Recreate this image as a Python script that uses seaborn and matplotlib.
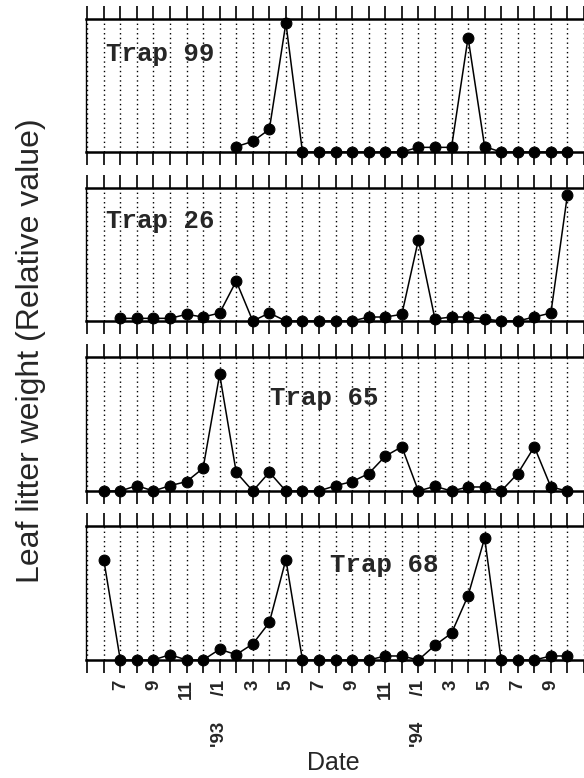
import matplotlib
matplotlib.use("Agg")
import matplotlib.pyplot as plt
import seaborn as sns
import numpy as np

nan = np.nan
# month index: 0 = Jun '92 ... 28 = Oct '94
months = list(range(29))
all_month_ticks = list(range(-1, 30))
label_positions = [1, 3, 5, 7, 9, 11, 13, 15, 17, 19, 21, 23, 25, 27]
tick_labels = ["7", "9", "11", "'93     /1", "3", "5", "7", "9", "11",
               "'94     /1", "3", "5", "7", "9"]

trap_names = ["Trap 99", "Trap 26", "Trap 65", "Trap 68"]
trap99 = [nan, nan, nan, nan, nan, nan, nan, nan, 0.04, 0.08, 0.17, 0.97, 0, 0, 0,
          0, 0, 0, 0, 0.035, 0.035, 0.035, 0.86, 0.04, 0, 0, 0, 0, 0]
trap26 = [nan, 0.02, 0.02, 0.02, 0.02, 0.05, 0.03, 0.06, 0.30, 0, 0.06, 0, 0, 0, 0,
          0, 0.03, 0.03, 0.05, 0.61, 0.015, 0.03, 0.03, 0.015, 0, 0, 0.03, 0.06, 0.95]
trap65 = [0, 0, 0.04, 0, 0.04, 0.07, 0.17, 0.87, 0.14, 0, 0.14, 0, 0, 0, 0.04,
          0.07, 0.13, 0.26, 0.33, 0, 0.035, 0, 0.03, 0.03, 0, 0.13, 0.33, 0.03, 0]
trap68 = [0.75, 0, 0, 0, 0.04, 0, 0, 0.08, 0.04, 0.12, 0.28, 0.75, 0, 0, 0,
          0, 0, 0.03, 0.03, 0, 0.11, 0.2, 0.48, 0.91, 0, 0, 0, 0.03, 0.03]
series = [trap99, trap26, trap65, trap68]

sns.set_style("white")
plt.rcParams["font.family"] = ["Liberation Sans", "DejaVu Sans"]

fig = plt.figure(figsize=(5.84, 7.78), dpi=100)

W, H = 584, 778
panels_px = [(19, 152), (188, 321), (357, 491), (526, 660)]
name_pos = [(0.04, 0.685), (0.04, 0.70), (0.37, 0.64), (0.49, 0.657)]
left_px = 86

for i, (vals, (top, bot)) in enumerate(zip(series, panels_px)):
    ax = fig.add_axes([left_px / W, 1 - bot / H, 1 - left_px / W, (bot - top) / H])
    sns.lineplot(x=months, y=vals, ax=ax, color="black", marker="o",
                 markersize=7.8, markeredgecolor="black", linewidth=1.1,
                 clip_on=False, zorder=5, estimator=None)
    ax.set_xlim(-1.07, 28.66)
    ax.set_ylim(0, 1.0)
    ax.set_xticks(all_month_ticks, minor=True)
    ax.set_xticks(label_positions)
    ax.set_yticks([])
    ax.grid(False)
    ax.grid(True, axis="x", which="both", color="black",
            linestyle=(0, (1, 2.4)), linewidth=1.0)
    ax.tick_params(axis="x", which="both", top=True, bottom=True,
                   direction="out", length=9.5, width=1.2, color="black")
    if i == 3:
        ax.set_xticklabels(tick_labels, rotation=90, fontsize=13.5,
                           fontweight="bold")
        ax.tick_params(axis="x", which="major", pad=4.5)
    else:
        ax.set_xticklabels([])
    for s in ["top", "bottom"]:
        ax.spines[s].set_linewidth(1.8)
        ax.spines[s].set_color("black")
    ax.spines["left"].set_linewidth(1.0)
    ax.spines["left"].set_color("black")
    ax.spines["right"].set_visible(False)
    ax.set_xlabel("")
    ax.set_ylabel("")
    ax.text(name_pos[i][0], name_pos[i][1], trap_names[i], transform=ax.transAxes,
            family=["Liberation Mono", "DejaVu Sans Mono"], fontweight="bold",
            fontsize=18.5, ha="left", va="baseline", zorder=6)

fig.text(31 / W, 1 - 351 / H, "Leaf litter weight (Relative value)",
         rotation=90, ha="center", va="center", fontsize=23)
fig.text(333 / W, 1 - 763 / H, "Date", ha="center", va="center", fontsize=18)

fig.savefig("out.png", dpi=100)
